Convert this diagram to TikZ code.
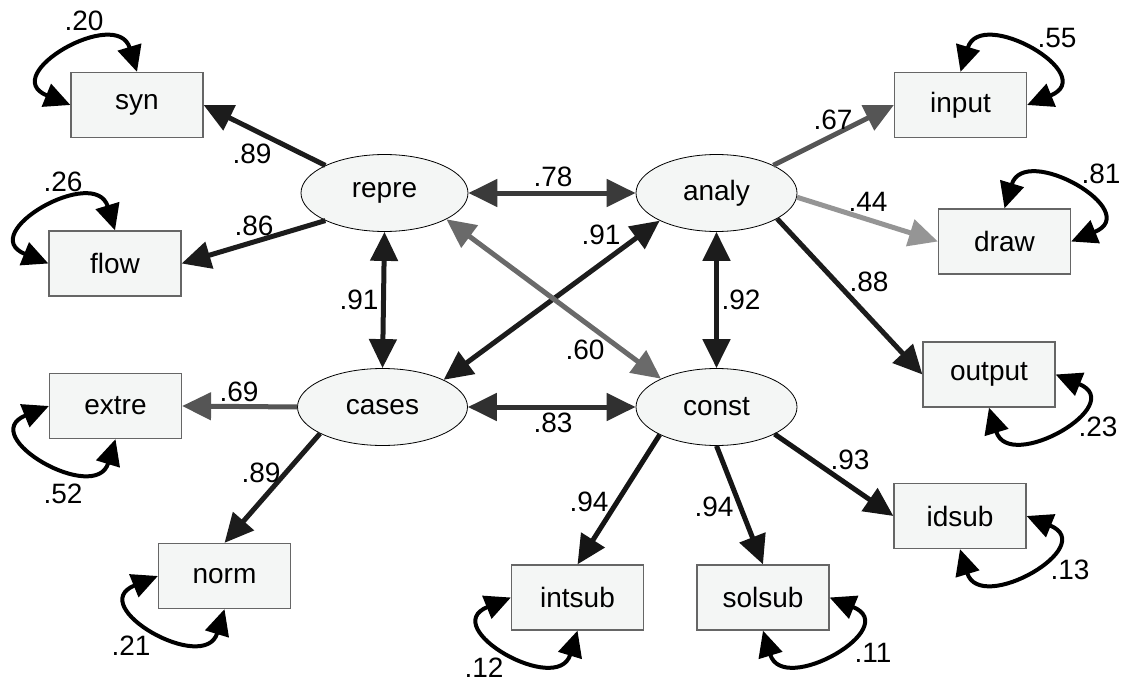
\documentclass[tikz,border=0pt]{standalone}
\usepackage{fontspec}
\setmainfont{Liberation Sans}
\usetikzlibrary{arrows.meta,shapes.geometric}
\definecolor{nodefill}{HTML}{F4F6F5}
\definecolor{boxline}{HTML}{666666}
\definecolor{cA}{HTML}{1C1C1C}
\definecolor{cB}{HTML}{3A3A3A}
\definecolor{cC}{HTML}{6A6A6A}
\definecolor{cD}{HTML}{303030}
\definecolor{cE}{HTML}{555555}
\definecolor{cF}{HTML}{959595}
\definecolor{cG}{HTML}{151515}
\begin{document}
\begin{tikzpicture}[x=1pt,y=-1pt,
  txt/.style={font=\fontsize{28}{33}\selectfont},
  obs/.style={txt,draw=boxline,line width=1.2pt,fill=nodefill,minimum width=132pt,minimum height=65pt,inner sep=0pt},
  lat/.style={txt,ellipse,draw=black,line width=0.8pt,fill=nodefill,minimum height=77pt,inner sep=0pt},
  lbl/.style={txt,inner sep=0pt},
  lnk/.style={line width=5pt,-{Triangle[length=29pt,width=27pt]}},
  blnk/.style={line width=5pt,{Triangle[length=29pt,width=27pt]}-{Triangle[length=29pt,width=27pt]}},
  vloop/.style={line width=4pt,black,{Triangle[length=26pt,width=24pt]}-{Triangle[length=26pt,width=24pt]}}
]
\useasboundingbox (0,0) rectangle (1122,682);
% latent variables
\node[lat,minimum width=167pt] (repre) at (384.5,193) {repre};
\node[lat,minimum width=161pt] (analy) at (716.5,193) {analy};
\node[lat,minimum width=170pt] (cases) at (382.5,407) {cases};
\node[lat,minimum width=161pt] (const) at (716.5,407) {const};
% observed variables
\node[obs] (syn) at (137,105) {syn};
\node[obs] (flow) at (115,263.5) {flow};
\node[obs] (input) at (960.5,105) {input};
\node[obs] (draw) at (1004.5,241.5) {draw};
\node[obs] (extre) at (115.5,406) {extre};
\node[obs] (norm) at (224.5,576) {norm};
\node[obs] (intsub) at (577.5,597.5) {intsub};
\node[obs] (solsub) at (763,597.5) {solsub};
\node[obs] (output) at (989,374.5) {output};
\node[obs] (idsub) at (960,516) {idsub};
% loadings
\draw[lnk,cA] (repre.155) -- (syn.east);
\draw[lnk,cA] (repre.205) -- (flow.east);
\draw[lnk,cE] (analy.26) -- (input.west);
\draw[lnk,cF] (analy.-3) -- (draw.west);
\draw[lnk,cA] (analy.-23) -- (output.west);
\draw[lnk,cE] (cases.west) -- (extre.east);
\draw[lnk,cA] (cases.203) -- (norm.north);
\draw[lnk,cG] (const.206) -- (intsub.north);
\draw[lnk,cG] (const.south) -- (solsub.north);
\draw[lnk,cG] (const.-25) -- (idsub.west);
% correlations
\draw[blnk,cB] (repre.east) -- (analy.west);
\draw[blnk,cA] (repre.south) -- (cases.north);
\draw[blnk,cA] (analy.south) -- (const.north);
\draw[blnk,cD] (cases.east) -- (const.west);
\draw[blnk,cA] (cases.24) -- (analy.206);
\draw[blnk,cC] (repre.-23) -- (const.153);
% residual variances
\draw[vloop] (syn.north) .. controls +(-20,-66) and +(-74,-30) .. (syn.west);
\draw[vloop] (flow.north) .. controls +(-20,-66) and +(-74,-30) .. (flow.west);
\draw[vloop] (input.north) .. controls +(20,-66) and +(74,-30) .. (input.east);
\draw[vloop] (draw.north) .. controls +(20,-66) and +(74,-30) .. (draw.east);
\draw[vloop] (extre.south) .. controls +(-20,66) and +(-74,30) .. (extre.west);
\draw[vloop] (norm.south) .. controls +(-20,66) and +(-74,30) .. (norm.west);
\draw[vloop] (intsub.south) .. controls +(-20,66) and +(-74,30) .. (intsub.west);
\draw[vloop] (solsub.south) .. controls +(20,66) and +(74,30) .. (solsub.east);
\draw[vloop] (output.south) .. controls +(20,66) and +(74,30) .. (output.east);
\draw[vloop] (idsub.south) .. controls +(20,66) and +(74,30) .. (idsub.east);
% labels
\node[lbl] (l1) at (252,154) {.89};
\node[lbl] (l2) at (254,226) {.86};
\node[lbl] (l3) at (84,21) {.20};
\node[lbl] (l4) at (63,182) {.26};
\node[lbl] (l5) at (553,177) {.78};
\node[lbl] (l6) at (359,300) {.91};
\node[lbl] (l7) at (601,235) {.91};
\node[lbl] (l8) at (585,350) {.60};
\node[lbl] (l9) at (741,300) {.92};
\node[lbl] (l10) at (553,423) {.83};
\node[lbl] (l11) at (1057,38) {.55};
\node[lbl] (l12) at (833,120) {.67};
\node[lbl] (l13) at (1101,174) {.81};
\node[lbl] (l14) at (868,202) {.44};
\node[lbl] (l15) at (869,282) {.88};
\node[lbl] (l16) at (239,392) {.69};
\node[lbl] (l17) at (63,494) {.52};
\node[lbl] (l18) at (261,473) {.89};
\node[lbl] (l19) at (131,646) {.21};
\node[lbl] (l20) at (589,502) {.94};
\node[lbl] (l21) at (714,507) {.94};
\node[lbl] (l22) at (850,460) {.93};
\node[lbl] (l23) at (484,668) {.12};
\node[lbl] (l24) at (873,653) {.11};
\node[lbl] (l25) at (1098,427) {.23};
\node[lbl] (l26) at (1070,570) {.13};
\end{tikzpicture}
\end{document}
